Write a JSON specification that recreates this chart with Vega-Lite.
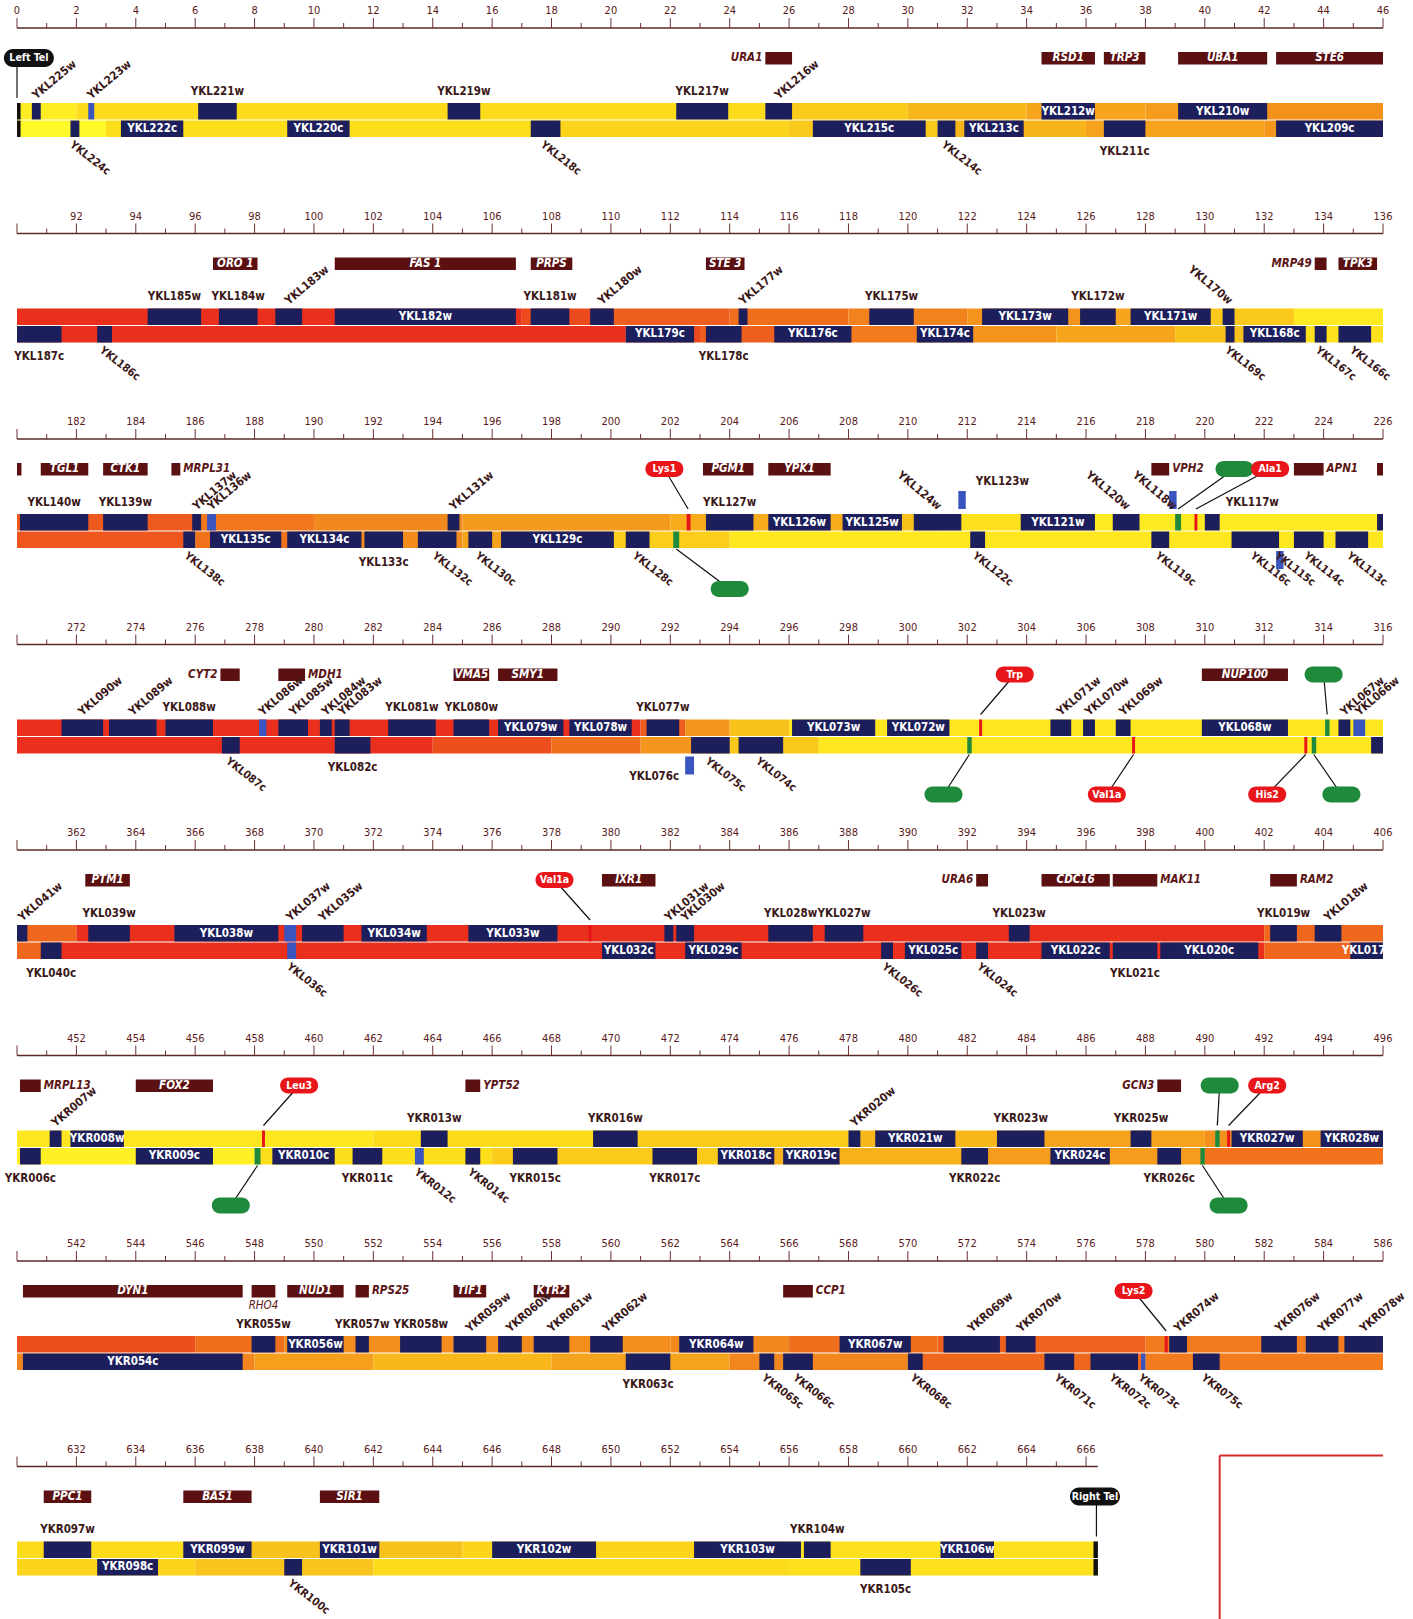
{
"$schema": "https://vega.github.io/schema/vega-lite/v6.json",
"padding": {"left": 3, "top": 5, "right": 5, "bottom": 5},
"background": "white",
"config": {"view": {"stroke": null}, "text": {"font": "DejaVu Sans Condensed, Liberation Sans Narrow, sans-serif"}},
"data": {"values": [
{"type":"ticks","row":1,"major":[0,2,4,6,8,10,12,14,16,18,20,22,24,26,28,30,32,34,36,38,40,42,44,46],"minor":[1,3,5,7,9,11,13,15,17,19,21,23,25,27,29,31,33,35,37,39,41,43,45]},
{"type":"ticks","row":2,"major":[90,92,94,96,98,100,102,104,106,108,110,112,114,116,118,120,122,124,126,128,130,132,134,136],"minor":[91,93,95,97,99,101,103,105,107,109,111,113,115,117,119,121,123,125,127,129,131,133,135]},
{"type":"ticks","row":3,"major":[180,182,184,186,188,190,192,194,196,198,200,202,204,206,208,210,212,214,216,218,220,222,224,226],"minor":[181,183,185,187,189,191,193,195,197,199,201,203,205,207,209,211,213,215,217,219,221,223,225]},
{"type":"ticks","row":4,"major":[270,272,274,276,278,280,282,284,286,288,290,292,294,296,298,300,302,304,306,308,310,312,314,316],"minor":[271,273,275,277,279,281,283,285,287,289,291,293,295,297,299,301,303,305,307,309,311,313,315]},
{"type":"ticks","row":5,"major":[360,362,364,366,368,370,372,374,376,378,380,382,384,386,388,390,392,394,396,398,400,402,404,406],"minor":[361,363,365,367,369,371,373,375,377,379,381,383,385,387,389,391,393,395,397,399,401,403,405]},
{"type":"ticks","row":6,"major":[450,452,454,456,458,460,462,464,466,468,470,472,474,476,478,480,482,484,486,488,490,492,494,496],"minor":[451,453,455,457,459,461,463,465,467,469,471,473,475,477,479,481,483,485,487,489,491,493,495]},
{"type":"ticks","row":7,"major":[540,542,544,546,548,550,552,554,556,558,560,562,564,566,568,570,572,574,576,578,580,582,584,586],"minor":[541,543,545,547,549,551,553,555,557,559,561,563,565,567,569,571,573,575,577,579,581,583,585]},
{"type":"ticks","row":8,"major":[630,632,634,636,638,640,642,644,646,648,650,652,654,656,658,660,662,664,666],"minor":[631,633,635,637,639,641,643,645,647,649,651,653,655,657,659,661,663,665]},
{"type":"ruler","row":1,"start":0,"end":46},
{"type":"ruler","row":2,"start":90,"end":136},
{"type":"ruler","row":3,"start":180,"end":226},
{"type":"ruler","row":4,"start":270,"end":316},
{"type":"ruler","row":5,"start":360,"end":406},
{"type":"ruler","row":6,"start":450,"end":496},
{"type":"ruler","row":7,"start":540,"end":586},
{"type":"ruler","row":8,"start":630,"end":666.4},
{"type":"frame","row":8,"start":670.5,"end":676},

{"type":"bg","row":1,"strand":"w","start":0,"end":2,"level":0.6},
{"type":"bg","row":1,"strand":"w","start":2,"end":26,"level":1.2},
{"type":"bg","row":1,"strand":"w","start":26,"end":30,"level":1.7},
{"type":"bg","row":1,"strand":"w","start":30,"end":34,"level":2.3},
{"type":"bg","row":1,"strand":"w","start":34,"end":38,"level":2.9},
{"type":"bg","row":1,"strand":"w","start":38,"end":42,"level":3.2},
{"type":"bg","row":1,"strand":"w","start":42,"end":46,"level":3.6},
{"type":"bg","row":1,"strand":"c","start":0,"end":3,"level":0.2},
{"type":"bg","row":1,"strand":"c","start":3,"end":18,"level":1.1},
{"type":"bg","row":1,"strand":"c","start":18,"end":26,"level":1.4},
{"type":"bg","row":1,"strand":"c","start":26,"end":31,"level":1.8},
{"type":"bg","row":1,"strand":"c","start":31,"end":36,"level":2.4},
{"type":"bg","row":1,"strand":"c","start":36,"end":42,"level":3.0},
{"type":"bg","row":1,"strand":"c","start":42,"end":46,"level":3.4},
{"type":"bg","row":2,"strand":"w","start":90,"end":107,"level":6},
{"type":"bg","row":2,"strand":"w","start":107,"end":110,"level":5.5},
{"type":"bg","row":2,"strand":"w","start":110,"end":114,"level":5},
{"type":"bg","row":2,"strand":"w","start":114,"end":118,"level":4.6},
{"type":"bg","row":2,"strand":"w","start":118,"end":122,"level":4.1},
{"type":"bg","row":2,"strand":"w","start":122,"end":126,"level":3.5},
{"type":"bg","row":2,"strand":"w","start":126,"end":130,"level":2.9},
{"type":"bg","row":2,"strand":"w","start":130,"end":133,"level":1.8},
{"type":"bg","row":2,"strand":"w","start":133,"end":136,"level":0.7},
{"type":"bg","row":2,"strand":"c","start":90,"end":110.5,"level":6},
{"type":"bg","row":2,"strand":"c","start":110.5,"end":113,"level":5.5},
{"type":"bg","row":2,"strand":"c","start":113,"end":117,"level":5},
{"type":"bg","row":2,"strand":"c","start":117,"end":121,"level":4.3},
{"type":"bg","row":2,"strand":"c","start":121,"end":125,"level":3.5},
{"type":"bg","row":2,"strand":"c","start":125,"end":129,"level":2.9},
{"type":"bg","row":2,"strand":"c","start":129,"end":132,"level":2},
{"type":"bg","row":2,"strand":"c","start":132,"end":136,"level":1},
{"type":"bg","row":3,"strand":"w","start":180,"end":186,"level":5.1},
{"type":"bg","row":3,"strand":"w","start":186,"end":190,"level":4.4},
{"type":"bg","row":3,"strand":"w","start":190,"end":195,"level":3.9},
{"type":"bg","row":3,"strand":"w","start":195,"end":202,"level":3.3},
{"type":"bg","row":3,"strand":"w","start":202,"end":208,"level":2.7},
{"type":"bg","row":3,"strand":"w","start":208,"end":211,"level":2.0},
{"type":"bg","row":3,"strand":"w","start":211,"end":214,"level":1.0},
{"type":"bg","row":3,"strand":"w","start":214,"end":226,"level":0.7},
{"type":"bg","row":3,"strand":"c","start":180,"end":186,"level":5.2},
{"type":"bg","row":3,"strand":"c","start":186,"end":190,"level":4.5},
{"type":"bg","row":3,"strand":"c","start":190,"end":195,"level":3.8},
{"type":"bg","row":3,"strand":"c","start":195,"end":200,"level":3.0},
{"type":"bg","row":3,"strand":"c","start":200,"end":204,"level":1.6},
{"type":"bg","row":3,"strand":"c","start":204,"end":226,"level":0.8},
{"type":"bg","row":4,"strand":"w","start":270,"end":291,"level":6},
{"type":"bg","row":4,"strand":"w","start":291,"end":292.5,"level":5},
{"type":"bg","row":4,"strand":"w","start":292.5,"end":294,"level":3.4},
{"type":"bg","row":4,"strand":"w","start":294,"end":296,"level":2},
{"type":"bg","row":4,"strand":"w","start":296,"end":316,"level":0.8},
{"type":"bg","row":4,"strand":"c","start":270,"end":284,"level":6},
{"type":"bg","row":4,"strand":"c","start":284,"end":288,"level":5.4},
{"type":"bg","row":4,"strand":"c","start":288,"end":291,"level":4.6},
{"type":"bg","row":4,"strand":"c","start":291,"end":294,"level":3.4},
{"type":"bg","row":4,"strand":"c","start":294,"end":297,"level":1.8},
{"type":"bg","row":4,"strand":"c","start":297,"end":316,"level":0.8},
{"type":"bg","row":5,"strand":"w","start":360,"end":362,"level":4.8},
{"type":"bg","row":5,"strand":"w","start":362,"end":402,"level":6},
{"type":"bg","row":5,"strand":"w","start":402,"end":406,"level":4.8},
{"type":"bg","row":5,"strand":"c","start":360,"end":361,"level":4.8},
{"type":"bg","row":5,"strand":"c","start":361,"end":402,"level":6},
{"type":"bg","row":5,"strand":"c","start":402,"end":406,"level":4.8},
{"type":"bg","row":6,"strand":"w","start":450,"end":462,"level":0.8},
{"type":"bg","row":6,"strand":"w","start":462,"end":470,"level":1.2},
{"type":"bg","row":6,"strand":"w","start":470,"end":478,"level":1.7},
{"type":"bg","row":6,"strand":"w","start":478,"end":484,"level":2.3},
{"type":"bg","row":6,"strand":"w","start":484,"end":490,"level":3.0},
{"type":"bg","row":6,"strand":"w","start":490,"end":496,"level":3.6},
{"type":"bg","row":6,"strand":"c","start":450,"end":458,"level":0.5},
{"type":"bg","row":6,"strand":"c","start":458,"end":466,"level":1.1},
{"type":"bg","row":6,"strand":"c","start":466,"end":474,"level":1.7},
{"type":"bg","row":6,"strand":"c","start":474,"end":482,"level":2.5},
{"type":"bg","row":6,"strand":"c","start":482,"end":490,"level":3.2},
{"type":"bg","row":6,"strand":"c","start":490,"end":496,"level":4.5},
{"type":"bg","row":7,"strand":"w","start":540,"end":546,"level":5.4},
{"type":"bg","row":7,"strand":"w","start":546,"end":549,"level":4.6},
{"type":"bg","row":7,"strand":"w","start":549,"end":562,"level":3.7},
{"type":"bg","row":7,"strand":"w","start":562,"end":566,"level":3.9},
{"type":"bg","row":7,"strand":"w","start":566,"end":571,"level":4.6},
{"type":"bg","row":7,"strand":"w","start":571,"end":578,"level":4.9},
{"type":"bg","row":7,"strand":"w","start":578,"end":586,"level":4.3},
{"type":"bg","row":7,"strand":"c","start":540,"end":548,"level":4},
{"type":"bg","row":7,"strand":"c","start":548,"end":552,"level":3.1},
{"type":"bg","row":7,"strand":"c","start":552,"end":558,"level":2.3},
{"type":"bg","row":7,"strand":"c","start":558,"end":564,"level":3},
{"type":"bg","row":7,"strand":"c","start":564,"end":570,"level":4},
{"type":"bg","row":7,"strand":"c","start":570,"end":578,"level":4.8},
{"type":"bg","row":7,"strand":"c","start":578,"end":586,"level":4.3},
{"type":"bg","row":8,"strand":"w","start":630,"end":636,"level":1.2},
{"type":"bg","row":8,"strand":"w","start":636,"end":645,"level":2},
{"type":"bg","row":8,"strand":"w","start":645,"end":656,"level":1.4},
{"type":"bg","row":8,"strand":"w","start":656,"end":666.4,"level":1.0},
{"type":"bg","row":8,"strand":"c","start":630,"end":636,"level":1.4},
{"type":"bg","row":8,"strand":"c","start":636,"end":642,"level":1.9},
{"type":"bg","row":8,"strand":"c","start":642,"end":656,"level":1.2},
{"type":"bg","row":8,"strand":"c","start":656,"end":666.4,"level":1.0},

{"type":"gene","row":1,"name":"YKL225w","start":0.5,"end":0.8,"strand":"w","label":"ru"},
{"type":"gene","row":1,"name":"YKL223w","start":2.4,"end":2.6,"strand":"w","kind":"short ORF","label":"ru"},
{"type":"gene","row":1,"name":"YKL221w","start":6.1,"end":7.4,"strand":"w","label":"up"},
{"type":"gene","row":1,"name":"YKL219w","start":14.5,"end":15.6,"strand":"w","label":"up"},
{"type":"gene","row":1,"name":"YKL217w","start":22.2,"end":23.95,"strand":"w","label":"up"},
{"type":"gene","row":1,"name":"YKL216w","start":25.2,"end":26.1,"strand":"w","label":"ru"},
{"type":"gene","row":1,"name":"YKL212w","start":34.5,"end":36.3,"strand":"w","label":"in"},
{"type":"gene","row":1,"name":"YKL210w","start":39.1,"end":42.1,"strand":"w","label":"in"},
{"type":"gene","row":1,"name":"YKL224c","start":1.8,"end":2.1,"strand":"c","label":"rc"},
{"type":"gene","row":1,"name":"YKL222c","start":3.5,"end":5.6,"strand":"c","label":"in"},
{"type":"gene","row":1,"name":"YKL220c","start":9.1,"end":11.2,"strand":"c","label":"in"},
{"type":"gene","row":1,"name":"YKL218c","start":17.3,"end":18.3,"strand":"c","label":"rc"},
{"type":"gene","row":1,"name":"YKL215c","start":26.8,"end":30.6,"strand":"c","label":"in"},
{"type":"gene","row":1,"name":"YKL214c","start":31.0,"end":31.6,"strand":"c","label":"rc"},
{"type":"gene","row":1,"name":"YKL213c","start":31.9,"end":33.9,"strand":"c","label":"in"},
{"type":"gene","row":1,"name":"YKL211c","start":36.6,"end":38.0,"strand":"c","label":"dn"},
{"type":"gene","row":1,"name":"YKL209c","start":42.4,"end":46,"strand":"c","label":"in"},

{"type":"gene","row":2,"name":"YKL185w","start":94.4,"end":96.2,"strand":"w","label":"up"},
{"type":"gene","row":2,"name":"YKL184w","start":96.8,"end":98.1,"strand":"w","label":"up"},
{"type":"gene","row":2,"name":"YKL183w","start":98.7,"end":99.6,"strand":"w","label":"ru"},
{"type":"gene","row":2,"name":"YKL182w","start":100.7,"end":106.8,"strand":"w","label":"in"},
{"type":"gene","row":2,"name":"YKL181w","start":107.3,"end":108.6,"strand":"w","label":"up"},
{"type":"gene","row":2,"name":"YKL180w","start":109.3,"end":110.1,"strand":"w","label":"ru"},
{"type":"gene","row":2,"name":"YKL177w","start":114.3,"end":114.6,"strand":"w","label":"ru"},
{"type":"gene","row":2,"name":"YKL175w","start":118.7,"end":120.2,"strand":"w","label":"up"},
{"type":"gene","row":2,"name":"YKL173w","start":122.5,"end":125.4,"strand":"w","label":"in"},
{"type":"gene","row":2,"name":"YKL172w","start":125.8,"end":127.0,"strand":"w","label":"up"},
{"type":"gene","row":2,"name":"YKL171w","start":127.5,"end":130.2,"strand":"w","label":"in"},
{"type":"gene","row":2,"name":"YKL170w","start":130.6,"end":131.0,"strand":"w","label":"rd"},
{"type":"gene","row":2,"name":"YKL187c","start":90.0,"end":91.5,"strand":"c","label":"dn"},
{"type":"gene","row":2,"name":"YKL186c","start":92.7,"end":93.2,"strand":"c","label":"rc"},
{"type":"gene","row":2,"name":"YKL179c","start":110.5,"end":112.8,"strand":"c","label":"in"},
{"type":"gene","row":2,"name":"YKL178c","start":113.2,"end":114.4,"strand":"c","label":"dn"},
{"type":"gene","row":2,"name":"YKL176c","start":115.5,"end":118.1,"strand":"c","label":"in"},
{"type":"gene","row":2,"name":"YKL174c","start":120.3,"end":122.2,"strand":"c","label":"in"},
{"type":"gene","row":2,"name":"YKL169c","start":130.7,"end":131.0,"strand":"c","label":"rc"},
{"type":"gene","row":2,"name":"YKL168c","start":131.3,"end":133.4,"strand":"c","label":"in"},
{"type":"gene","row":2,"name":"YKL167c","start":133.7,"end":134.1,"strand":"c","label":"rc"},
{"type":"gene","row":2,"name":"YKL166c","start":134.5,"end":135.6,"strand":"c","label":"rc"},

{"type":"gene","row":3,"name":"YKL140w","start":180.1,"end":182.4,"strand":"w","label":"up"},
{"type":"gene","row":3,"name":"YKL139w","start":182.9,"end":184.4,"strand":"w","label":"up"},
{"type":"gene","row":3,"name":"YKL137w","start":185.9,"end":186.2,"strand":"w","label":"ru"},
{"type":"gene","row":3,"name":"YKL136w","start":186.4,"end":186.7,"strand":"w","kind":"short ORF","label":"ru"},
{"type":"gene","row":3,"name":"YKL131w","start":194.5,"end":194.9,"strand":"w","label":"ru"},
{"type":"gene","row":3,"name":"YKL127w","start":203.2,"end":204.8,"strand":"w","label":"up"},
{"type":"gene","row":3,"name":"YKL126w","start":205.3,"end":207.4,"strand":"w","label":"in"},
{"type":"gene","row":3,"name":"YKL125w","start":207.8,"end":209.8,"strand":"w","label":"in"},
{"type":"gene","row":3,"name":"YKL124w","start":210.2,"end":211.8,"strand":"w","label":"rd"},
{"type":"gene","row":3,"name":"YKL121w","start":213.8,"end":216.3,"strand":"w","label":"in"},
{"type":"gene","row":3,"name":"YKL120w","start":216.9,"end":217.8,"strand":"w","label":"rd"},
{"type":"gene","row":3,"name":"YKL117w","start":220.0,"end":220.5,"strand":"w","label":"ur"},
{"type":"gene","row":3,"name":"","start":225.8,"end":226,"strand":"w","label":"none"},
{"type":"gene","row":3,"name":"YKL123w","start":211.7,"end":211.95,"strand":"w","lane":"above","kind":"short ORF","label":"hr"},
{"type":"gene","row":3,"name":"YKL118w","start":218.8,"end":219.05,"strand":"w","lane":"above","kind":"short ORF","label":"rd"},
{"type":"gene","row":3,"name":"YKL138c","start":185.6,"end":186.0,"strand":"c","label":"rc"},
{"type":"gene","row":3,"name":"YKL135c","start":186.5,"end":188.9,"strand":"c","label":"in"},
{"type":"gene","row":3,"name":"YKL134c","start":189.1,"end":191.6,"strand":"c","label":"in"},
{"type":"gene","row":3,"name":"YKL133c","start":191.7,"end":193.0,"strand":"c","label":"dn"},
{"type":"gene","row":3,"name":"YKL132c","start":193.5,"end":194.8,"strand":"c","label":"rc"},
{"type":"gene","row":3,"name":"YKL130c","start":195.2,"end":196.0,"strand":"c","label":"rc"},
{"type":"gene","row":3,"name":"YKL129c","start":196.3,"end":200.1,"strand":"c","label":"in"},
{"type":"gene","row":3,"name":"YKL128c","start":200.5,"end":201.3,"strand":"c","label":"rc"},
{"type":"gene","row":3,"name":"YKL122c","start":212.1,"end":212.6,"strand":"c","label":"rc"},
{"type":"gene","row":3,"name":"YKL119c","start":218.2,"end":218.8,"strand":"c","label":"rc"},
{"type":"gene","row":3,"name":"YKL116c","start":220.9,"end":222.5,"strand":"c","label":"rc"},
{"type":"gene","row":3,"name":"YKL114c","start":223.0,"end":224.0,"strand":"c","label":"rc"},
{"type":"gene","row":3,"name":"YKL113c","start":224.4,"end":225.5,"strand":"c","label":"rc"},
{"type":"gene","row":3,"name":"YKL115c","start":222.4,"end":222.65,"strand":"c","lane":"below","kind":"short ORF","label":"rc"},

{"type":"gene","row":4,"name":"YKL090w","start":271.5,"end":272.9,"strand":"w","label":"ru"},
{"type":"gene","row":4,"name":"YKL089w","start":273.1,"end":274.7,"strand":"w","label":"ru"},
{"type":"gene","row":4,"name":"YKL088w","start":275.0,"end":276.6,"strand":"w","label":"up"},
{"type":"gene","row":4,"name":"YKL086w","start":278.15,"end":278.4,"strand":"w","kind":"short ORF","label":"ru"},
{"type":"gene","row":4,"name":"YKL085w","start":278.8,"end":279.8,"strand":"w","label":"ru"},
{"type":"gene","row":4,"name":"YKL084w","start":280.2,"end":280.6,"strand":"w","label":"ru"},
{"type":"gene","row":4,"name":"YKL083w","start":280.7,"end":281.2,"strand":"w","label":"ru"},
{"type":"gene","row":4,"name":"YKL081w","start":282.5,"end":284.1,"strand":"w","label":"up"},
{"type":"gene","row":4,"name":"YKL080w","start":284.7,"end":285.9,"strand":"w","label":"up"},
{"type":"gene","row":4,"name":"YKL079w","start":286.2,"end":288.4,"strand":"w","label":"in"},
{"type":"gene","row":4,"name":"YKL078w","start":288.6,"end":290.7,"strand":"w","label":"in"},
{"type":"gene","row":4,"name":"YKL077w","start":291.2,"end":292.3,"strand":"w","label":"up"},
{"type":"gene","row":4,"name":"YKL073w","start":296.1,"end":298.9,"strand":"w","label":"in"},
{"type":"gene","row":4,"name":"YKL072w","start":299.3,"end":301.4,"strand":"w","label":"in"},
{"type":"gene","row":4,"name":"YKL071w","start":304.8,"end":305.5,"strand":"w","label":"ru"},
{"type":"gene","row":4,"name":"YKL070w","start":305.9,"end":306.3,"strand":"w","label":"ru"},
{"type":"gene","row":4,"name":"YKL069w","start":307.0,"end":307.5,"strand":"w","label":"ru"},
{"type":"gene","row":4,"name":"YKL068w","start":309.9,"end":312.8,"strand":"w","label":"in"},
{"type":"gene","row":4,"name":"YKL067w","start":314.5,"end":314.9,"strand":"w","label":"ru"},
{"type":"gene","row":4,"name":"YKL066w","start":315.0,"end":315.4,"strand":"w","kind":"short ORF","label":"ru"},
{"type":"gene","row":4,"name":"YKL087c","start":276.9,"end":277.5,"strand":"c","label":"rc"},
{"type":"gene","row":4,"name":"YKL082c","start":280.7,"end":281.9,"strand":"c","label":"dn"},
{"type":"gene","row":4,"name":"YKL075c","start":292.7,"end":294.0,"strand":"c","label":"rc"},
{"type":"gene","row":4,"name":"YKL074c","start":294.3,"end":295.8,"strand":"c","label":"rc"},
{"type":"gene","row":4,"name":"","start":315.6,"end":316,"strand":"c","label":"none"},
{"type":"gene","row":4,"name":"YKL076c","start":292.5,"end":292.8,"strand":"c","lane":"below","kind":"short ORF","label":"bl"},

{"type":"gene","row":5,"name":"YKL041w","start":360.0,"end":360.35,"strand":"w","label":"ru"},
{"type":"gene","row":5,"name":"YKL039w","start":362.4,"end":363.8,"strand":"w","label":"up"},
{"type":"gene","row":5,"name":"YKL038w","start":365.3,"end":368.8,"strand":"w","label":"in"},
{"type":"gene","row":5,"name":"YKL037w","start":369.0,"end":369.4,"strand":"w","kind":"short ORF","label":"ru"},
{"type":"gene","row":5,"name":"YKL035w","start":369.6,"end":371.0,"strand":"w","label":"ru"},
{"type":"gene","row":5,"name":"YKL034w","start":371.6,"end":373.8,"strand":"w","label":"in"},
{"type":"gene","row":5,"name":"YKL033w","start":375.2,"end":378.2,"strand":"w","label":"in"},
{"type":"gene","row":5,"name":"YKL031w","start":381.8,"end":382.1,"strand":"w","label":"ru"},
{"type":"gene","row":5,"name":"YKL030w","start":382.2,"end":382.8,"strand":"w","label":"ru"},
{"type":"gene","row":5,"name":"YKL028w","start":385.3,"end":386.8,"strand":"w","label":"up"},
{"type":"gene","row":5,"name":"YKL027w","start":387.2,"end":388.5,"strand":"w","label":"up"},
{"type":"gene","row":5,"name":"YKL023w","start":393.4,"end":394.1,"strand":"w","label":"up"},
{"type":"gene","row":5,"name":"YKL019w","start":402.2,"end":403.1,"strand":"w","label":"up"},
{"type":"gene","row":5,"name":"YKL018w","start":403.7,"end":404.6,"strand":"w","label":"ru"},
{"type":"gene","row":5,"name":"YKL040c","start":360.8,"end":361.5,"strand":"c","label":"dn"},
{"type":"gene","row":5,"name":"YKL036c","start":369.1,"end":369.4,"strand":"c","kind":"short ORF","label":"rc"},
{"type":"gene","row":5,"name":"YKL032c","start":379.7,"end":381.5,"strand":"c","label":"in"},
{"type":"gene","row":5,"name":"YKL029c","start":382.5,"end":384.4,"strand":"c","label":"in"},
{"type":"gene","row":5,"name":"YKL026c","start":389.1,"end":389.5,"strand":"c","label":"rc"},
{"type":"gene","row":5,"name":"YKL025c","start":389.9,"end":391.8,"strand":"c","label":"in"},
{"type":"gene","row":5,"name":"YKL024c","start":392.3,"end":392.7,"strand":"c","label":"rc"},
{"type":"gene","row":5,"name":"YKL022c","start":394.5,"end":396.8,"strand":"c","label":"in"},
{"type":"gene","row":5,"name":"YKL021c","start":396.9,"end":398.4,"strand":"c","label":"dn"},
{"type":"gene","row":5,"name":"YKL020c","start":398.5,"end":401.8,"strand":"c","label":"in"},
{"type":"gene","row":5,"name":"YKL017c","start":404.9,"end":406,"strand":"c","label":"in"},

{"type":"gene","row":6,"name":"YKR007w","start":451.1,"end":451.5,"strand":"w","label":"ru"},
{"type":"gene","row":6,"name":"YKR008w","start":451.8,"end":453.6,"strand":"w","label":"in"},
{"type":"gene","row":6,"name":"YKR013w","start":463.6,"end":464.5,"strand":"w","label":"up"},
{"type":"gene","row":6,"name":"YKR016w","start":469.4,"end":470.9,"strand":"w","label":"up"},
{"type":"gene","row":6,"name":"YKR020w","start":478.0,"end":478.4,"strand":"w","label":"ru"},
{"type":"gene","row":6,"name":"YKR021w","start":478.9,"end":481.6,"strand":"w","label":"in"},
{"type":"gene","row":6,"name":"YKR023w","start":483.0,"end":484.6,"strand":"w","label":"up"},
{"type":"gene","row":6,"name":"YKR025w","start":487.5,"end":488.2,"strand":"w","label":"up"},
{"type":"gene","row":6,"name":"YKR027w","start":490.9,"end":493.3,"strand":"w","label":"in"},
{"type":"gene","row":6,"name":"YKR028w","start":493.9,"end":496,"strand":"w","label":"in"},
{"type":"gene","row":6,"name":"YKR006c","start":450.1,"end":450.8,"strand":"c","label":"dn"},
{"type":"gene","row":6,"name":"YKR009c","start":454.0,"end":456.6,"strand":"c","label":"in"},
{"type":"gene","row":6,"name":"YKR010c","start":458.6,"end":460.7,"strand":"c","label":"in"},
{"type":"gene","row":6,"name":"YKR011c","start":461.3,"end":462.3,"strand":"c","label":"dn"},
{"type":"gene","row":6,"name":"YKR012c","start":463.4,"end":463.7,"strand":"c","kind":"short ORF","label":"rc"},
{"type":"gene","row":6,"name":"YKR014c","start":465.1,"end":465.6,"strand":"c","label":"rc"},
{"type":"gene","row":6,"name":"YKR015c","start":466.7,"end":468.2,"strand":"c","label":"dn"},
{"type":"gene","row":6,"name":"YKR017c","start":471.4,"end":472.9,"strand":"c","label":"dn"},
{"type":"gene","row":6,"name":"YKR018c","start":473.6,"end":475.5,"strand":"c","label":"in"},
{"type":"gene","row":6,"name":"YKR019c","start":475.8,"end":477.7,"strand":"c","label":"in"},
{"type":"gene","row":6,"name":"YKR022c","start":481.8,"end":482.7,"strand":"c","label":"dn"},
{"type":"gene","row":6,"name":"YKR024c","start":484.8,"end":486.8,"strand":"c","label":"in"},
{"type":"gene","row":6,"name":"YKR026c","start":488.4,"end":489.2,"strand":"c","label":"dn"},

{"type":"gene","row":7,"name":"YKR055w","start":547.9,"end":548.7,"strand":"w","label":"up"},
{"type":"gene","row":7,"name":"YKR056w","start":549.1,"end":551.0,"strand":"w","label":"in"},
{"type":"gene","row":7,"name":"YKR057w","start":551.4,"end":551.85,"strand":"w","label":"up"},
{"type":"gene","row":7,"name":"YKR058w","start":552.9,"end":554.3,"strand":"w","label":"up"},
{"type":"gene","row":7,"name":"YKR059w","start":554.7,"end":555.8,"strand":"w","label":"ru"},
{"type":"gene","row":7,"name":"YKR060w","start":556.2,"end":557.0,"strand":"w","label":"ru"},
{"type":"gene","row":7,"name":"YKR061w","start":557.4,"end":558.6,"strand":"w","label":"ru"},
{"type":"gene","row":7,"name":"YKR062w","start":559.3,"end":560.4,"strand":"w","label":"ru"},
{"type":"gene","row":7,"name":"YKR064w","start":562.3,"end":564.8,"strand":"w","label":"in"},
{"type":"gene","row":7,"name":"YKR067w","start":567.7,"end":570.1,"strand":"w","label":"in"},
{"type":"gene","row":7,"name":"YKR069w","start":571.2,"end":573.1,"strand":"w","label":"ru"},
{"type":"gene","row":7,"name":"YKR070w","start":573.3,"end":574.3,"strand":"w","label":"ru"},
{"type":"gene","row":7,"name":"YKR074w","start":578.8,"end":579.4,"strand":"w","label":"ru"},
{"type":"gene","row":7,"name":"YKR076w","start":581.9,"end":583.1,"strand":"w","label":"ru"},
{"type":"gene","row":7,"name":"YKR077w","start":583.4,"end":584.5,"strand":"w","label":"ru"},
{"type":"gene","row":7,"name":"YKR078w","start":584.7,"end":586,"strand":"w","label":"ru"},
{"type":"gene","row":7,"name":"YKR054c","start":540.2,"end":547.6,"strand":"c","label":"in"},
{"type":"gene","row":7,"name":"YKR063c","start":560.5,"end":562.0,"strand":"c","label":"dn"},
{"type":"gene","row":7,"name":"YKR065c","start":565.0,"end":565.5,"strand":"c","label":"rc"},
{"type":"gene","row":7,"name":"YKR066c","start":565.8,"end":566.8,"strand":"c","label":"rc"},
{"type":"gene","row":7,"name":"YKR068c","start":570.0,"end":570.5,"strand":"c","label":"rc"},
{"type":"gene","row":7,"name":"YKR071c","start":574.6,"end":575.6,"strand":"c","label":"rc"},
{"type":"gene","row":7,"name":"YKR072c","start":576.15,"end":577.75,"strand":"c","label":"rc"},
{"type":"gene","row":7,"name":"YKR073c","start":577.85,"end":578.0,"strand":"c","kind":"short ORF","label":"rc"},
{"type":"gene","row":7,"name":"YKR075c","start":579.6,"end":580.5,"strand":"c","label":"rc"},

{"type":"gene","row":8,"name":"YKR097w","start":630.9,"end":632.5,"strand":"w","label":"up"},
{"type":"gene","row":8,"name":"YKR099w","start":635.6,"end":637.9,"strand":"w","label":"in"},
{"type":"gene","row":8,"name":"YKR101w","start":640.2,"end":642.2,"strand":"w","label":"in"},
{"type":"gene","row":8,"name":"YKR102w","start":646.0,"end":649.5,"strand":"w","label":"in"},
{"type":"gene","row":8,"name":"YKR103w","start":652.8,"end":656.4,"strand":"w","label":"in"},
{"type":"gene","row":8,"name":"YKR104w","start":656.5,"end":657.4,"strand":"w","label":"up"},
{"type":"gene","row":8,"name":"YKR106w","start":661.1,"end":662.9,"strand":"w","label":"in"},
{"type":"gene","row":8,"name":"YKR098c","start":632.7,"end":634.75,"strand":"c","label":"in"},
{"type":"gene","row":8,"name":"YKR100c","start":639.0,"end":639.6,"strand":"c","label":"rc"},
{"type":"gene","row":8,"name":"YKR105c","start":658.4,"end":660.1,"strand":"c","label":"dn"},

{"type":"known","row":1,"name":"URA1","start":25.2,"end":26.1,"label":"left"},
{"type":"known","row":1,"name":"RSD1","start":34.5,"end":36.3,"label":"in"},
{"type":"known","row":1,"name":"TRP3","start":36.6,"end":38.0,"label":"in"},
{"type":"known","row":1,"name":"UBA1","start":39.1,"end":42.1,"label":"in"},
{"type":"known","row":1,"name":"STE6","start":42.4,"end":46,"label":"in"},
{"type":"known","row":2,"name":"ORO 1","start":96.6,"end":98.1,"label":"in"},
{"type":"known","row":2,"name":"FAS 1","start":100.7,"end":106.8,"label":"in"},
{"type":"known","row":2,"name":"PRPS","start":107.3,"end":108.7,"label":"in"},
{"type":"known","row":2,"name":"STE 3","start":113.2,"end":114.5,"label":"in"},
{"type":"known","row":2,"name":"MRP49","start":133.7,"end":134.1,"label":"left"},
{"type":"known","row":2,"name":"TPK3","start":134.5,"end":135.8,"label":"in"},
{"type":"known","row":3,"name":"","start":180.0,"end":180.15,"label":"none"},
{"type":"known","row":3,"name":"TGL1","start":180.8,"end":182.4,"label":"in"},
{"type":"known","row":3,"name":"CTK1","start":182.9,"end":184.4,"label":"in"},
{"type":"known","row":3,"name":"MRPL31","start":185.2,"end":185.5,"label":"right"},
{"type":"known","row":3,"name":"PGM1","start":203.1,"end":204.8,"label":"in"},
{"type":"known","row":3,"name":"YPK1","start":205.3,"end":207.4,"label":"in"},
{"type":"known","row":3,"name":"VPH2","start":218.2,"end":218.8,"label":"right"},
{"type":"known","row":3,"name":"APN1","start":223.0,"end":224.0,"label":"right"},
{"type":"known","row":3,"name":"","start":225.8,"end":226,"label":"none"},
{"type":"known","row":4,"name":"CYT2","start":276.85,"end":277.5,"label":"left"},
{"type":"known","row":4,"name":"MDH1","start":278.8,"end":279.7,"label":"right"},
{"type":"known","row":4,"name":"VMA5","start":284.7,"end":285.9,"label":"in"},
{"type":"known","row":4,"name":"SMY1","start":286.2,"end":288.2,"label":"in"},
{"type":"known","row":4,"name":"NUP100","start":309.9,"end":312.8,"label":"in"},
{"type":"known","row":5,"name":"PTM1","start":362.3,"end":363.8,"label":"in"},
{"type":"known","row":5,"name":"IXR1","start":379.7,"end":381.5,"label":"in"},
{"type":"known","row":5,"name":"URA6","start":392.3,"end":392.7,"label":"left"},
{"type":"known","row":5,"name":"CDC16","start":394.5,"end":396.8,"label":"in"},
{"type":"known","row":5,"name":"MAK11","start":396.9,"end":398.4,"label":"right"},
{"type":"known","row":5,"name":"RAM2","start":402.2,"end":403.1,"label":"right"},
{"type":"known","row":6,"name":"MRPL13","start":450.1,"end":450.8,"label":"right"},
{"type":"known","row":6,"name":"FOX2","start":454.0,"end":456.6,"label":"in"},
{"type":"known","row":6,"name":"YPT52","start":465.1,"end":465.6,"label":"right"},
{"type":"known","row":6,"name":"GCN3","start":488.4,"end":489.2,"label":"left"},
{"type":"known","row":7,"name":"DYN1","start":540.2,"end":547.6,"label":"in"},
{"type":"known","row":7,"name":"RHO4","start":547.9,"end":548.7,"label":"below"},
{"type":"known","row":7,"name":"NUD1","start":549.1,"end":551.0,"label":"in"},
{"type":"known","row":7,"name":"RPS25","start":551.4,"end":551.85,"label":"right"},
{"type":"known","row":7,"name":"TIF1","start":554.7,"end":555.8,"label":"in"},
{"type":"known","row":7,"name":"KTR2","start":557.4,"end":558.6,"label":"in"},
{"type":"known","row":7,"name":"CCP1","start":565.8,"end":566.8,"label":"right"},
{"type":"known","row":8,"name":"PPC1","start":630.9,"end":632.5,"label":"in"},
{"type":"known","row":8,"name":"BAS1","start":635.6,"end":637.9,"label":"in"},
{"type":"known","row":8,"name":"SIR1","start":640.2,"end":642.2,"label":"in"},

{"type":"mark","row":1,"start":0,"end":0.12,"strand":"w","feature":"telomere"},
{"type":"mark","row":1,"start":0,"end":0.12,"strand":"c","feature":"telomere"},
{"type":"mark","row":3,"start":202.55,"end":202.68,"strand":"w","feature":"tRNA"},
{"type":"mark","row":3,"start":202.1,"end":202.3,"strand":"c","feature":"LTR"},
{"type":"mark","row":3,"start":219.0,"end":219.2,"strand":"w","feature":"LTR"},
{"type":"mark","row":3,"start":219.65,"end":219.75,"strand":"w","feature":"tRNA"},
{"type":"mark","row":4,"start":302.4,"end":302.5,"strand":"w","feature":"tRNA"},
{"type":"mark","row":4,"start":302.0,"end":302.15,"strand":"c","feature":"LTR"},
{"type":"mark","row":4,"start":307.55,"end":307.65,"strand":"c","feature":"tRNA"},
{"type":"mark","row":4,"start":313.35,"end":313.45,"strand":"c","feature":"tRNA"},
{"type":"mark","row":4,"start":313.6,"end":313.75,"strand":"c","feature":"LTR"},
{"type":"mark","row":4,"start":314.05,"end":314.2,"strand":"w","feature":"LTR"},
{"type":"mark","row":5,"start":379.25,"end":379.35,"strand":"w","feature":"tRNA"},
{"type":"mark","row":6,"start":458.25,"end":458.35,"strand":"w","feature":"tRNA"},
{"type":"mark","row":6,"start":458.0,"end":458.2,"strand":"c","feature":"LTR"},
{"type":"mark","row":6,"start":490.35,"end":490.5,"strand":"w","feature":"LTR"},
{"type":"mark","row":6,"start":490.75,"end":490.85,"strand":"w","feature":"tRNA"},
{"type":"mark","row":6,"start":489.85,"end":490.0,"strand":"c","feature":"LTR"},
{"type":"mark","row":7,"start":578.65,"end":578.75,"strand":"w","feature":"tRNA"},
{"type":"mark","row":8,"start":666.25,"end":666.4,"strand":"w","feature":"telomere"},
{"type":"mark","row":8,"start":666.25,"end":666.4,"strand":"c","feature":"telomere"},

{"type":"pill","row":1,"name":"Left Tel","start":0.4,"lane":"up","feature":"telomere"},
{"type":"pill","row":3,"name":"Lys1","start":201.8,"lane":"up","feature":"tRNA"},
{"type":"pill","row":3,"name":"","start":204.0,"lane":"down","feature":"LTR"},
{"type":"pill","row":3,"name":"","start":221.0,"lane":"up","feature":"LTR"},
{"type":"pill","row":3,"name":"Ala1","start":222.2,"lane":"up","feature":"tRNA"},
{"type":"pill","row":4,"name":"Trp","start":303.6,"lane":"up","feature":"tRNA"},
{"type":"pill","row":4,"name":"","start":314.0,"lane":"up","feature":"LTR"},
{"type":"pill","row":4,"name":"","start":301.2,"lane":"down","feature":"LTR"},
{"type":"pill","row":4,"name":"Val1a","start":306.7,"lane":"down","feature":"tRNA"},
{"type":"pill","row":4,"name":"His2","start":312.1,"lane":"down","feature":"tRNA"},
{"type":"pill","row":4,"name":"","start":314.6,"lane":"down","feature":"LTR"},
{"type":"pill","row":5,"name":"Val1a","start":378.1,"lane":"up","feature":"tRNA"},
{"type":"pill","row":6,"name":"Leu3","start":459.5,"lane":"up","feature":"tRNA"},
{"type":"pill","row":6,"name":"","start":490.5,"lane":"up","feature":"LTR"},
{"type":"pill","row":6,"name":"Arg2","start":492.1,"lane":"up","feature":"tRNA"},
{"type":"pill","row":6,"name":"","start":457.2,"lane":"down","feature":"LTR"},
{"type":"pill","row":6,"name":"","start":490.8,"lane":"down","feature":"LTR"},
{"type":"pill","row":7,"name":"Lys2","start":577.6,"lane":"up","feature":"tRNA"},
{"type":"pill","row":8,"name":"Right Tel","start":666.3,"lane":"up","feature":"telomere"},

{"type":"link","row":1,"id":"LT","start":0,"lane":"up"},
{"type":"link","row":1,"id":"LT","start":0,"lane":"w"},
{"type":"link","row":3,"id":"Lys1","start":201.8,"lane":"up"},
{"type":"link","row":3,"id":"Lys1","start":202.6,"lane":"w"},
{"type":"link","row":3,"id":"L3a","start":204.0,"lane":"down"},
{"type":"link","row":3,"id":"L3a","start":202.2,"lane":"c"},
{"type":"link","row":3,"id":"L3b","start":221.0,"lane":"up"},
{"type":"link","row":3,"id":"L3b","start":219.1,"lane":"w"},
{"type":"link","row":3,"id":"Ala1","start":222.2,"lane":"up"},
{"type":"link","row":3,"id":"Ala1","start":219.7,"lane":"w"},
{"type":"link","row":4,"id":"Trp","start":303.6,"lane":"up"},
{"type":"link","row":4,"id":"Trp","start":302.45,"lane":"w"},
{"type":"link","row":4,"id":"L4a","start":314.0,"lane":"up"},
{"type":"link","row":4,"id":"L4a","start":314.12,"lane":"w"},
{"type":"link","row":4,"id":"L4b","start":301.2,"lane":"down"},
{"type":"link","row":4,"id":"L4b","start":302.07,"lane":"c"},
{"type":"link","row":4,"id":"Val4","start":306.7,"lane":"down"},
{"type":"link","row":4,"id":"Val4","start":307.6,"lane":"c"},
{"type":"link","row":4,"id":"His2","start":312.1,"lane":"down"},
{"type":"link","row":4,"id":"His2","start":313.4,"lane":"c"},
{"type":"link","row":4,"id":"L4c","start":314.6,"lane":"down"},
{"type":"link","row":4,"id":"L4c","start":313.67,"lane":"c"},
{"type":"link","row":5,"id":"Val5","start":378.1,"lane":"up"},
{"type":"link","row":5,"id":"Val5","start":379.3,"lane":"w"},
{"type":"link","row":6,"id":"Leu3","start":459.5,"lane":"up"},
{"type":"link","row":6,"id":"Leu3","start":458.3,"lane":"w"},
{"type":"link","row":6,"id":"L6a","start":490.5,"lane":"up"},
{"type":"link","row":6,"id":"L6a","start":490.42,"lane":"w"},
{"type":"link","row":6,"id":"Arg2","start":492.1,"lane":"up"},
{"type":"link","row":6,"id":"Arg2","start":490.8,"lane":"w"},
{"type":"link","row":6,"id":"L6b","start":457.2,"lane":"down"},
{"type":"link","row":6,"id":"L6b","start":458.1,"lane":"c"},
{"type":"link","row":6,"id":"L6c","start":490.8,"lane":"down"},
{"type":"link","row":6,"id":"L6c","start":489.92,"lane":"c"},
{"type":"link","row":7,"id":"Lys2","start":577.6,"lane":"up"},
{"type":"link","row":7,"id":"Lys2","start":578.7,"lane":"w"},
{"type":"link","row":8,"id":"RT","start":666.35,"lane":"up"},
{"type":"link","row":8,"id":"RT","start":666.35,"lane":"w"}
]},
"facet": {"row": {"field": "row", "type": "ordinal", "title": null, "header": {"labels": false, "title": null}}},
"spacing": {"row": 22.5},
"resolve": {"scale": {"x": "independent"}, "axis": {"x": "independent"}},
"spec": {
"width": 1366,
"height": 160,
"resolve": {"scale": {"y": "independent"}},
"layer": [
{"transform": [{"filter": "datum.type === 'bg'"}],
 "mark": {"type": "rect"},
 "encoding": {
  "x": {"field": "start", "type": "quantitative", "scale": {"zero": false, "nice": false}, "axis": null},
  "x2": {"field": "end"},
  "y": {"field": "strand", "type": "nominal", "axis": null, "scale": {"domain": ["w", "c"], "range": [75, 109], "paddingInner": 0.06, "paddingOuter": 0}},
  "color": {"field": "level", "type": "quantitative", "legend": null,
   "scale": {"domain": [0, 1, 2, 3, 4, 5, 6], "range": ["#ffff2e", "#fde11c", "#f8c21c", "#f5a21d", "#f2861e", "#ee5e1e", "#e8301d"]}}
 }},
{"transform": [{"filter": "datum.type === 'ruler'"}],
 "mark": {"type": "rule", "color": "#5a2a2a", "strokeWidth": 1.5},
 "encoding": {
  "x": {"field": "start", "type": "quantitative", "axis": null},
  "x2": {"field": "end"},
  "y": {"datum": "base", "type": "nominal", "axis": null, "scale": {"type": "point", "domain": ["major", "minor", "base"], "range": [-10, 0], "padding": 0}}
 }},
{"transform": [{"filter": "datum.type === 'ticks'"}, {"flatten": ["minor"]}],
 "mark": {"type": "rule", "color": "#6b3030", "strokeWidth": 1},
 "encoding": {
  "x": {"field": "minor", "type": "quantitative", "axis": null},
  "y": {"datum": "base", "type": "nominal", "axis": null, "scale": {"type": "point", "domain": ["major", "minor", "base"], "range": [-10, 0], "padding": 0}},
  "y2": {"datum": "minor"}
 }},
{"transform": [{"filter": "datum.type === 'ticks'"}, {"flatten": ["major"]}],
 "mark": {"type": "rule", "color": "#6b3030", "strokeWidth": 1},
 "encoding": {
  "x": {"field": "major", "type": "quantitative", "axis": null},
  "y": {"datum": "base", "type": "nominal", "axis": null, "scale": {"type": "point", "domain": ["major", "minor", "base"], "range": [-10, 0], "padding": 0}},
  "y2": {"datum": "major"}
 }},
{"transform": [{"filter": "datum.type === 'ticks'"}, {"flatten": ["major"]}, {"filter": "datum.major === 0 || datum.major % 90 !== 0"}],
 "mark": {"type": "text", "color": "#5a1a1a", "fontSize": 11, "baseline": "bottom", "dy": -2},
 "encoding": {
  "x": {"field": "major", "type": "quantitative", "axis": null},
  "y": {"datum": "major", "type": "nominal", "axis": null, "scale": {"type": "point", "domain": ["major", "minor", "base"], "range": [-10, 0], "padding": 0}},
  "text": {"field": "major", "type": "quantitative", "format": "d"}
 }},
{"transform": [{"filter": "datum.type === 'gene' && !datum.lane"}],
 "mark": {"type": "rect"},
 "encoding": {
  "x": {"field": "start", "type": "quantitative", "axis": null},
  "x2": {"field": "end"},
  "y": {"field": "strand", "type": "nominal", "axis": null, "scale": {"domain": ["w", "c"], "range": [75, 109], "paddingInner": 0.06, "paddingOuter": 0}},
  "fill": {"condition": {"test": "datum.kind === 'short ORF'", "value": "#3a55c0"}, "value": "#1d1f5c"}
 }},
{"transform": [{"filter": "datum.type === 'gene' && datum.lane"}],
 "mark": {"type": "rect"},
 "encoding": {
  "x": {"field": "start", "type": "quantitative", "axis": null},
  "x2": {"field": "end"},
  "y": {"field": "lane", "type": "nominal", "axis": null, "scale": {"domain": ["above", "below"], "range": [52, 130], "paddingInner": 0.7, "paddingOuter": 0}},
  "fill": {"value": "#3a55c0"}
 }},
{"transform": [{"filter": "datum.type === 'mark'"}],
 "mark": {"type": "rect"},
 "encoding": {
  "x": {"field": "start", "type": "quantitative", "axis": null},
  "x2": {"field": "end"},
  "y": {"field": "strand", "type": "nominal", "axis": null, "scale": {"domain": ["w", "c"], "range": [75, 109], "paddingInner": 0.06, "paddingOuter": 0}},
  "fill": {"field": "feature", "type": "nominal", "legend": null, "scale": {"domain": ["tRNA", "LTR", "telomere"], "range": ["#e8161b", "#1f8a3b", "#111111"]}}
 }},
{"transform": [{"filter": "datum.type === 'link'"}],
 "mark": {"type": "line", "color": "#111111", "strokeWidth": 1.2},
 "encoding": {
  "x": {"field": "start", "type": "quantitative", "axis": null},
  "y": {"field": "lane", "type": "nominal", "axis": null, "scale": {"type": "point", "domain": ["up", "w", "c", "down"], "range": [30, 150], "padding": 0}},
  "detail": {"field": "id", "type": "nominal"}
 }},
{"transform": [{"filter": "datum.type === 'known'"}],
 "mark": {"type": "rect", "color": "#5b1111"},
 "encoding": {
  "x": {"field": "start", "type": "quantitative", "axis": null},
  "x2": {"field": "end"},
  "y": {"field": "type", "type": "nominal", "axis": null, "scale": {"domain": ["known"], "range": [24, 36.5], "paddingInner": 0, "paddingOuter": 0}}
 }},
{"transform": [{"filter": "datum.type === 'pill' && datum.feature !== 'telomere'"}],
 "mark": {"type": "point", "shape": "M-0.58,-0.42H0.58A0.42,0.42,0,0,1,0.58,0.42H-0.58A0.42,0.42,0,0,1,-0.58,-0.42Z", "filled": true, "size": 1444, "opacity": 1, "strokeWidth": 0},
 "encoding": {
  "x": {"field": "start", "type": "quantitative", "axis": null},
  "y": {"field": "lane", "type": "nominal", "axis": null, "scale": {"type": "point", "domain": ["up", "w", "c", "down"], "range": [30, 150], "padding": 0}},
  "fill": {"field": "feature", "type": "nominal", "legend": null, "scale": {"domain": ["tRNA", "LTR", "telomere"], "range": ["#e8161b", "#1f8a3b", "#111111"]}}
 }},
{"transform": [{"filter": "datum.type === 'pill' && datum.feature === 'telomere'"}],
 "mark": {"type": "point", "shape": "M-0.64,-0.36H0.64A0.36,0.36,0,0,1,0.64,0.36H-0.64A0.36,0.36,0,0,1,-0.64,-0.36Z", "filled": true, "size": 2500, "opacity": 1, "strokeWidth": 0},
 "encoding": {
  "x": {"field": "start", "type": "quantitative", "axis": null},
  "y": {"field": "lane", "type": "nominal", "axis": null, "scale": {"type": "point", "domain": ["up", "w", "c", "down"], "range": [30, 150], "padding": 0}},
  "fill": {"field": "feature", "type": "nominal", "legend": null, "scale": {"domain": ["tRNA", "LTR", "telomere"], "range": ["#e8161b", "#1f8a3b", "#111111"]}}
 }},
{"transform": [{"filter": "datum.type === 'pill'"}],
 "mark": {"type": "text", "color": "white", "fontWeight": "bold", "fontSize": 10.5, "baseline": "middle"},
 "encoding": {
  "x": {"field": "start", "type": "quantitative", "axis": null},
  "y": {"field": "lane", "type": "nominal", "axis": null, "scale": {"type": "point", "domain": ["up", "w", "c", "down"], "range": [30, 150], "padding": 0}},
  "text": {"field": "name"}
 }},
{"transform": [{"filter": "datum.type === 'gene' && datum.label === 'in'"}, {"fold": ["start", "end"], "as": ["edge", "pos"]}],
 "mark": {"type": "text", "color": "white", "fontWeight": "bold", "fontSize": 11.5, "baseline": "middle"},
 "encoding": {
  "x": {"field": "pos", "aggregate": "mean", "type": "quantitative", "axis": null},
  "y": {"field": "strand", "type": "nominal", "axis": null, "scale": {"domain": ["w", "c"], "range": [75, 109], "paddingInner": 0.06, "paddingOuter": 0}},
  "text": {"field": "name"}
 }},
{"transform": [{"filter": "datum.type === 'gene' && datum.label === 'up'"}, {"fold": ["start", "end"], "as": ["edge", "pos"]}],
 "mark": {"type": "text", "color": "#3a1818", "fontWeight": "bold", "fontSize": 11.5, "baseline": "middle", "dy": -20},
 "encoding": {
  "x": {"field": "pos", "aggregate": "mean", "type": "quantitative", "axis": null},
  "y": {"field": "strand", "type": "nominal", "axis": null, "scale": {"domain": ["w", "c"], "range": [75, 109], "paddingInner": 0.06, "paddingOuter": 0}},
  "text": {"field": "name"}
 }},
{"transform": [{"filter": "datum.type === 'gene' && datum.label === 'dn'"}, {"fold": ["start", "end"], "as": ["edge", "pos"]}],
 "mark": {"type": "text", "color": "#3a1818", "fontWeight": "bold", "fontSize": 11.5, "baseline": "middle", "dy": 23},
 "encoding": {
  "x": {"field": "pos", "aggregate": "mean", "type": "quantitative", "axis": null},
  "y": {"field": "strand", "type": "nominal", "axis": null, "scale": {"domain": ["w", "c"], "range": [75, 109], "paddingInner": 0.06, "paddingOuter": 0}},
  "text": {"field": "name"}
 }},
{"transform": [{"filter": "datum.type === 'gene' && datum.label === 'ru'"}, {"fold": ["start", "end"], "as": ["edge", "pos"]}],
 "mark": {"type": "text", "color": "#3a1818", "fontWeight": "bold", "fontSize": 11.5, "align": "left", "baseline": "alphabetic", "angle": 320, "dx": 7.7, "dy": -9.2},
 "encoding": {
  "x": {"field": "pos", "aggregate": "mean", "type": "quantitative", "axis": null},
  "y": {"field": "strand", "type": "nominal", "axis": null, "scale": {"domain": ["w", "c"], "range": [75, 109], "paddingInner": 0.06, "paddingOuter": 0}},
  "text": {"field": "name"}
 }},
{"transform": [{"filter": "datum.type === 'gene' && datum.label === 'rd'"}, {"fold": ["start", "end"], "as": ["edge", "pos"]}],
 "mark": {"type": "text", "color": "#3a1818", "fontWeight": "bold", "fontSize": 11.5, "align": "right", "baseline": "alphabetic", "angle": 40, "dx": -7.7, "dy": -9.2},
 "encoding": {
  "x": {"field": "pos", "aggregate": "mean", "type": "quantitative", "axis": null},
  "y": {"field": "strand", "type": "nominal", "axis": null, "scale": {"domain": ["w", "c"], "range": [75, 109], "paddingInner": 0.06, "paddingOuter": 0}},
  "text": {"field": "name"}
 }},
{"transform": [{"filter": "datum.type === 'gene' && datum.label === 'rc'"}, {"fold": ["start", "end"], "as": ["edge", "pos"]}],
 "mark": {"type": "text", "color": "#3a1818", "fontWeight": "bold", "fontSize": 11, "align": "left", "baseline": "top", "angle": 38, "dx": 6.4, "dy": 8.2},
 "encoding": {
  "x": {"field": "pos", "aggregate": "mean", "type": "quantitative", "axis": null},
  "y": {"field": "strand", "type": "nominal", "axis": null, "scale": {"domain": ["w", "c"], "range": [75, 109], "paddingInner": 0.06, "paddingOuter": 0}},
  "text": {"field": "name"}
 }},
{"transform": [{"filter": "datum.type === 'gene' && datum.label === 'ur'"}],
 "mark": {"type": "text", "color": "#3a1818", "fontWeight": "bold", "fontSize": 11.5, "align": "left", "baseline": "middle", "dx": 6, "dy": -20},
 "encoding": {
  "x": {"field": "end", "type": "quantitative", "axis": null},
  "y": {"field": "strand", "type": "nominal", "axis": null, "scale": {"domain": ["w", "c"], "range": [75, 109], "paddingInner": 0.06, "paddingOuter": 0}},
  "text": {"field": "name"}
 }},
{"transform": [{"filter": "datum.type === 'gene' && datum.label === 'hr'"}],
 "mark": {"type": "text", "color": "#3a1818", "fontWeight": "bold", "fontSize": 11.5, "align": "left", "baseline": "middle", "dx": 10, "dy": -41},
 "encoding": {
  "x": {"field": "end", "type": "quantitative", "axis": null},
  "y": {"field": "strand", "type": "nominal", "axis": null, "scale": {"domain": ["w", "c"], "range": [75, 109], "paddingInner": 0.06, "paddingOuter": 0}},
  "text": {"field": "name"}
 }},
{"transform": [{"filter": "datum.type === 'gene' && datum.label === 'bl'"}],
 "mark": {"type": "text", "color": "#3a1818", "fontWeight": "bold", "fontSize": 11.5, "align": "right", "baseline": "middle", "dx": -6, "dy": 32},
 "encoding": {
  "x": {"field": "start", "type": "quantitative", "axis": null},
  "y": {"field": "strand", "type": "nominal", "axis": null, "scale": {"domain": ["w", "c"], "range": [75, 109], "paddingInner": 0.06, "paddingOuter": 0}},
  "text": {"field": "name"}
 }},
{"transform": [{"filter": "datum.type === 'known' && datum.label === 'in'"}, {"fold": ["start", "end"], "as": ["edge", "pos"]}],
 "mark": {"type": "text", "color": "white", "fontWeight": "bold", "fontStyle": "italic", "fontSize": 11.5, "baseline": "middle"},
 "encoding": {
  "x": {"field": "pos", "aggregate": "mean", "type": "quantitative", "axis": null},
  "y": {"field": "type", "type": "nominal", "axis": null, "scale": {"domain": ["known"], "range": [24, 36.5], "paddingInner": 0, "paddingOuter": 0}},
  "text": {"field": "name"}
 }},
{"transform": [{"filter": "datum.type === 'known' && datum.label === 'left'"}],
 "mark": {"type": "text", "color": "#5b1515", "fontWeight": "bold", "fontStyle": "italic", "fontSize": 11.5, "baseline": "middle", "align": "right", "dx": -3},
 "encoding": {
  "x": {"field": "start", "type": "quantitative", "axis": null},
  "y": {"field": "type", "type": "nominal", "axis": null, "scale": {"domain": ["known"], "range": [24, 36.5], "paddingInner": 0, "paddingOuter": 0}},
  "text": {"field": "name"}
 }},
{"transform": [{"filter": "datum.type === 'known' && datum.label === 'right'"}],
 "mark": {"type": "text", "color": "#5b1515", "fontWeight": "bold", "fontStyle": "italic", "fontSize": 11.5, "baseline": "middle", "align": "left", "dx": 3},
 "encoding": {
  "x": {"field": "end", "type": "quantitative", "axis": null},
  "y": {"field": "type", "type": "nominal", "axis": null, "scale": {"domain": ["known"], "range": [24, 36.5], "paddingInner": 0, "paddingOuter": 0}},
  "text": {"field": "name"}
 }},
{"transform": [{"filter": "datum.type === 'known' && datum.label === 'below'"}, {"fold": ["start", "end"], "as": ["edge", "pos"]}],
 "mark": {"type": "text", "color": "#5b1515", "fontStyle": "italic", "fontSize": 11.5, "baseline": "middle", "dy": 15},
 "encoding": {
  "x": {"field": "pos", "aggregate": "mean", "type": "quantitative", "axis": null},
  "y": {"field": "type", "type": "nominal", "axis": null, "scale": {"domain": ["known"], "range": [24, 36.5], "paddingInner": 0, "paddingOuter": 0}},
  "text": {"field": "name"}
 }},
{"transform": [{"filter": "datum.type === 'frame'"}],
 "mark": {"type": "rule", "color": "#d42a2a", "strokeWidth": 2},
 "encoding": {
  "x": {"field": "start", "type": "quantitative", "axis": null},
  "x2": {"field": "end"},
  "y": {"datum": "top", "type": "nominal", "axis": null, "scale": {"type": "point", "domain": ["top", "bottom"], "range": [-11, 158], "padding": 0}}
 }},
{"transform": [{"filter": "datum.type === 'frame'"}],
 "mark": {"type": "rule", "color": "#d42a2a", "strokeWidth": 2},
 "encoding": {
  "x": {"field": "start", "type": "quantitative", "axis": null},
  "y": {"datum": "top", "type": "nominal", "axis": null, "scale": {"type": "point", "domain": ["top", "bottom"], "range": [-11, 158], "padding": 0}},
  "y2": {"datum": "bottom"}
 }}
]
}
}
